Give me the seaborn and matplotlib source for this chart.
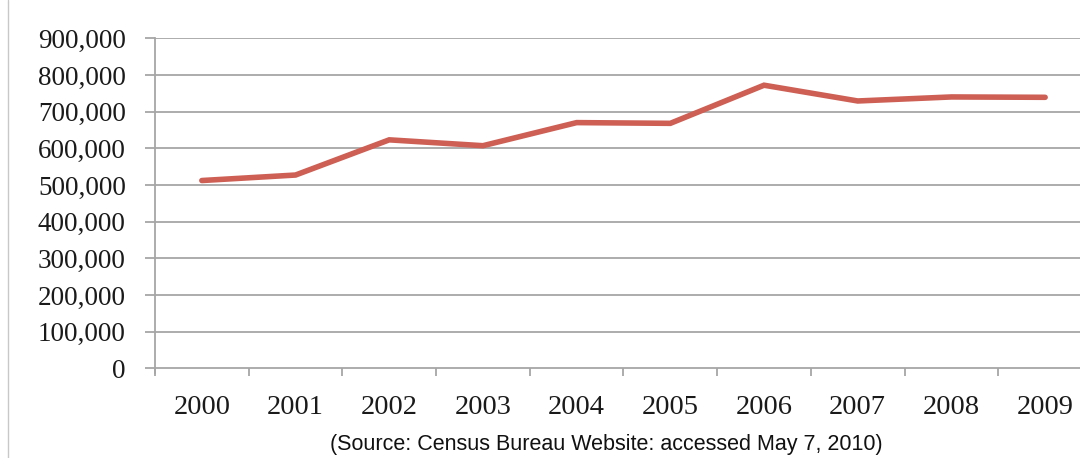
import matplotlib
matplotlib.use("Agg")
import matplotlib.pyplot as plt
from matplotlib.ticker import FuncFormatter, FixedLocator
from matplotlib.lines import Line2D
import seaborn as sns
import pandas as pd

years = ["2000", "2001", "2002", "2003", "2004", "2005", "2006", "2007", "2008", "2009"]
values = [512000, 527000, 623000, 607000, 670000, 668000, 772000, 729000, 740000, 739000]
y_ticks = [0, 100000, 200000, 300000, 400000, 500000, 600000, 700000, 800000, 900000]
source_note = "(Source: Census Bureau Website: accessed May 7, 2010)"

sns.set_style("white")
plt.rcParams["font.family"] = ["Liberation Serif", "DejaVu Serif"]

df = pd.DataFrame({"year": years, "value": values})
df["pos"] = range(len(years))

fig = plt.figure(figsize=(10.8, 4.58), dpi=100)
ax = fig.add_axes([0.1435, 0.196, 1.0111 - 0.1435, 0.9164 - 0.196])

grid_color = "#a6a6a6"
for v in y_ticks[1:]:
    ax.axhline(v, color=grid_color, linewidth=1.3, zorder=1)

sns.lineplot(data=df, x="pos", y="value", ax=ax, color="#cd5f54",
             linewidth=4.0, solid_capstyle="round", solid_joinstyle="miter",
             zorder=3)

ax.set_xlim(-0.5, len(years) - 0.5)
ax.set_ylim(0, 900000)
ax.set_xlabel("")
ax.set_ylabel("")

ax.set_yticks(y_ticks)
ax.yaxis.set_major_formatter(FuncFormatter(lambda v, _: f"{int(v):,}"))
ax.set_xticks(range(len(years)))
ax.set_xticklabels(years)
ax.xaxis.set_minor_locator(FixedLocator([i - 0.5 for i in range(len(years) + 1)]))

ax.tick_params(axis="y", which="major", length=7, width=1.3, color=grid_color,
               direction="out", pad=14, labelsize=19.5, labelcolor="#1a1a1a", left=True)
ax.tick_params(axis="x", which="major", length=0, pad=19, labelsize=20.5,
               labelcolor="#1a1a1a", bottom=True)
ax.tick_params(axis="x", which="minor", length=6, width=1.3, color=grid_color,
               direction="out", bottom=True)

for side in ["top", "right"]:
    ax.spines[side].set_visible(False)
for side in ["left", "bottom"]:
    ax.spines[side].set_color(grid_color)
    ax.spines[side].set_linewidth(1.3)
ax.spines["left"].set_bounds(-12000, 900000)

fig.text(0.561, 0.006, source_note, ha="center", va="bottom",
         fontsize=15.5, family=["Liberation Sans", "DejaVu Sans"], color="#111111")

fig.add_artist(Line2D([0.0075, 0.0075], [0.0, 1.0], transform=fig.transFigure,
                      color="#c8c8c8", linewidth=1.0))

fig.savefig("out.png", dpi=100)
